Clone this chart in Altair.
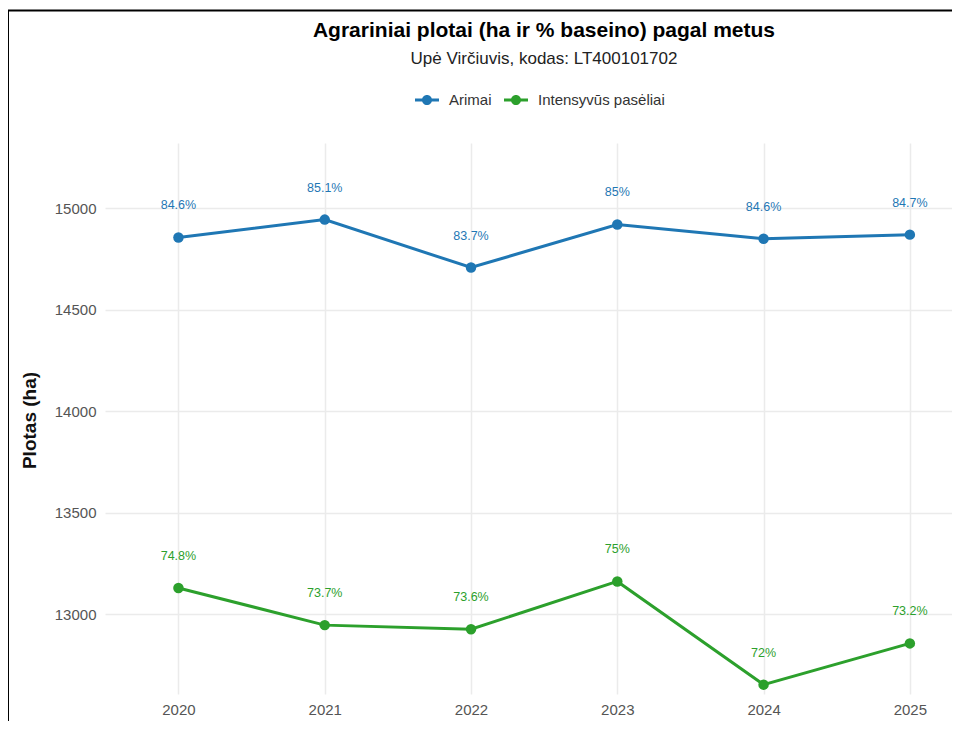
import altair as alt
import pandas as pd

years = [2020, 2021, 2022, 2023, 2024, 2025]
series_names = ["Arimai", "Intensyvūs pasėliai"]
arimai_ha = [14855, 14943, 14707, 14919, 14849, 14869]
intensyvus_ha = [13130, 12947, 12927, 13162, 12654, 12857]
arimai_pct = ["84.6%", "85.1%", "83.7%", "85%", "84.6%", "84.7%"]
intensyvus_pct = ["74.8%", "73.7%", "73.6%", "75%", "72%", "73.2%"]
y_ticks = [13000, 13500, 14000, 14500, 15000]
colors = ["#1f77b4", "#2ca02c"]

rows = []
for name, vals, pcts in [
    (series_names[0], arimai_ha, arimai_pct),
    (series_names[1], intensyvus_ha, intensyvus_pct),
]:
    for yr, v, p in zip(years, vals, pcts):
        rows.append({"Metai": yr, "Plotas": v, "Serija": name, "Procentai": p})
df = pd.DataFrame(rows)

FONT = "Liberation Sans"

x_enc = alt.X(
    "Metai:Q",
    scale=alt.Scale(domain=[2019.498, 2025.288], nice=False, zero=False),
    axis=alt.Axis(
        values=years, format="d", title=None, grid=True, domain=False, ticks=False,
        labelPadding=8, labelFontSize=15, labelColor="#555", labelFont=FONT,
        gridColor="#ebebeb", gridWidth=1.5,
    ),
)
y_enc = alt.Y(
    "Plotas:Q",
    scale=alt.Scale(domain=[12608, 15320], nice=False, zero=False),
    axis=alt.Axis(
        values=y_ticks, format="d", title="Plotas (ha)", grid=True, domain=False, ticks=False,
        labelPadding=9, labelFontSize=15, labelColor="#555", labelFont=FONT,
        gridColor="#ebebeb", gridWidth=1.5,
        titleFont=FONT, titleFontSize=19, titleFontWeight="bold", titleColor="#111",
        titleAngle=-90, titleX=-75.5, titleY=277, titleAlign="center", titleBaseline="middle",
    ),
)
color_scale = alt.Scale(domain=series_names, range=colors)

legend_path = (
    "M-1,-0.125L1,-0.125L1,0.125L-1,0.125Z"
    "M-0.42,0A0.42,0.42,0,1,1,0.42,0A0.42,0.42,0,1,1,-0.42,0Z"
)
legend = alt.Legend(
    title=None, orient="none", legendX=310, legendY=-55, direction="horizontal",
    symbolType=legend_path, symbolSize=576, symbolStrokeWidth=0,
    symbolFillColor="#1f77b4",
    labelFont=FONT, labelFontSize=15, labelColor="#333", labelOffset=10,
    columnPadding=12, padding=0,
)
color_enc = alt.Color("Serija:N", scale=color_scale, legend=legend)

base = alt.Chart(df)

line = base.mark_line(strokeWidth=3).encode(x=x_enc, y=y_enc, color=color_enc)
points = base.mark_point(filled=True, size=110, opacity=1).encode(
    x=x_enc, y=y_enc, color=color_enc
)
labels = base.mark_text(dy=-32, fontSize=12.5, font=FONT, baseline="middle").encode(
    x=x_enc, y=y_enc, text="Procentai:N", color=color_enc
)

frame = alt.Chart(pd.DataFrame({"f": [0]})).mark_rect(
    fill="transparent", stroke="black", strokeWidth=2, clip=False
).encode(
    x=alt.value(-97), x2=alt.value(1000), y=alt.value(-132.5), y2=alt.value(800)
)

chart = alt.layer(frame, points, line, labels).properties(
    width=847,
    height=551,
    padding={"left": 97, "top": 135, "right": 0, "bottom": 27},
    autosize=alt.AutoSizeParams(type="none"),
    title=alt.TitleParams(
        text="Agrariniai plotai (ha ir % baseino) pagal metus",
        subtitle="Upė Virčiuvis, kodas: LT400101702",
        font=FONT, fontSize=21, fontWeight="bold", color="#000",
        subtitleFont=FONT, subtitleFontSize=17, subtitleColor="#222",
        subtitlePadding=10, anchor="middle", frame="group", offset=-57, dx=15.5,
    ),
).configure(background="white").configure_view(strokeWidth=0, stroke=None)

chart.save("out.html", embed_options={"renderer": "svg", "actions": False})
